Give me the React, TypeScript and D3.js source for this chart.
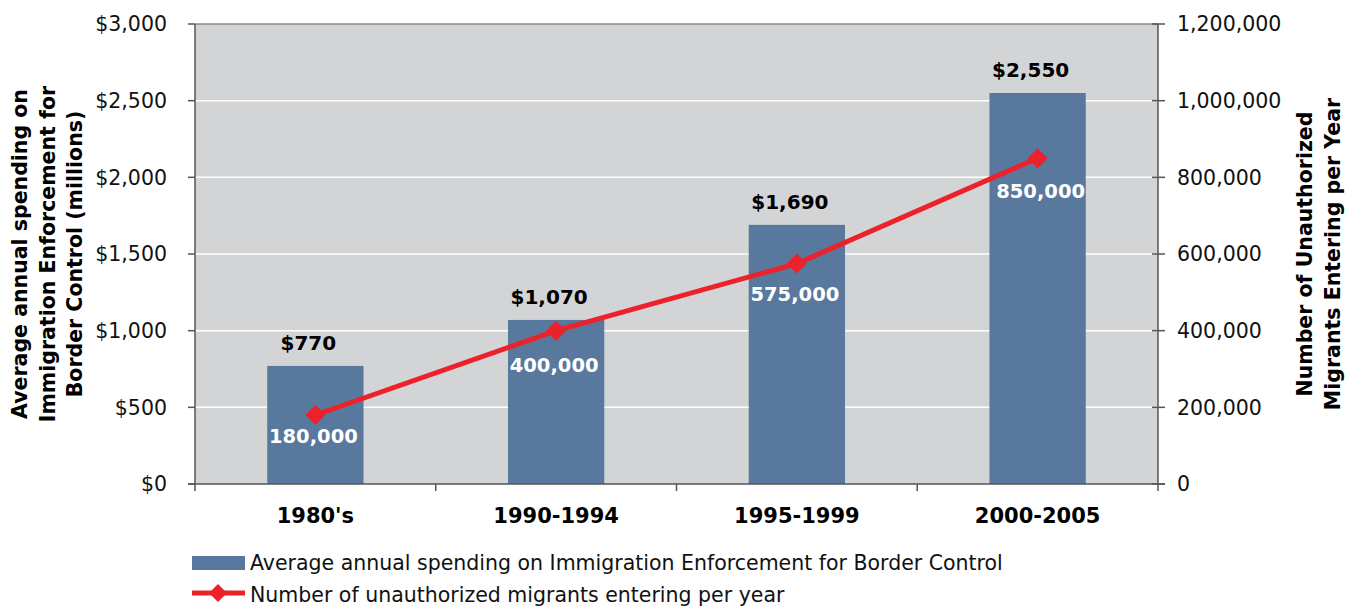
import React from "react";
import * as d3 from "d3";

const categories = ["1980's", "1990-1994", "1995-1999", "2000-2005"];
const spending = [770, 1070, 1690, 2550];
const migrants = [180000, 400000, 575000, 850000];
const leftTicks = [0, 500, 1000, 1500, 2000, 2500, 3000];
const rightTicks = [0, 200000, 400000, 600000, 800000, 1000000, 1200000];
const leftTitle = ["Average annual spending on", "Immigration Enforcement for", "Border Control (millions)"];
const rightTitle = ["Number of Unauthorized", "Migrants Entering per Year"];
const legendBar = "Average annual spending on Immigration Enforcement for Border Control";
const legendLine = "Number of unauthorized migrants entering per year";

const W = 1354, H = 606;
const L = 195, R = 1158, T = 24, B = 484;
const FONT = "Verdana, 'DejaVu Sans', sans-serif";
const BAR = "#58799d";
const RED = "#ed2129";
const LINE_LABEL_DY = [28, 41, 37, 40];

export default function App() {
  const x = d3.scaleBand<string>().domain(categories).range([L, R]).paddingInner(0).paddingOuter(0);
  const yL = d3.scaleLinear().domain([0, 3000]).range([B, T]);
  const yR = d3.scaleLinear().domain([0, 1200000]).range([B, T]);
  const bw = x.bandwidth() * 0.4;
  const fmtD = (v: number) => "$" + d3.format(",")(v);
  const fmt = d3.format(",");
  const line = d3.line<number>().x((_, i) => x(categories[i])! + x.bandwidth() / 2).y(d => yR(d));
  const diamond = (cx: number, cy: number, r: number) => `M${cx},${cy - r}L${cx + r},${cy}L${cx},${cy + r}L${cx - r},${cy}Z`;

  return (
    <svg width={W} height={H} style={{ position: "absolute", left: 0, top: 0, fontFamily: FONT }}>
      <rect x={0} y={0} width={W} height={H} fill="#fff" />
      <rect x={L} y={T} width={R - L} height={B - T} fill="#d3d4d6" />
      {leftTicks.slice(1).map(t => (
        <line key={t} x1={L} x2={R} y1={yL(t)} y2={yL(t)} stroke={t === 3000 ? "#8a8a8a" : "#fff"} strokeWidth={1.5} />
      ))}
      {categories.map((c, i) => (
        <rect key={c} x={x(c)! + x.bandwidth() / 2 - bw / 2} y={yL(spending[i])} width={bw} height={B - yL(spending[i])} fill={BAR} />
      ))}
      <line x1={L} x2={L} y1={T} y2={B} stroke="#555" strokeWidth={1.5} />
      <line x1={R} x2={R} y1={T} y2={B} stroke="#555" strokeWidth={1.5} />
      <line x1={L - 7} x2={R + 7} y1={B} y2={B} stroke="#555" strokeWidth={1.5} />
      {leftTicks.map(t => (
        <g key={t}>
          <line x1={L - 7} x2={L} y1={yL(t)} y2={yL(t)} stroke="#555" strokeWidth={1.5} />
          <text x={L - 28} y={yL(t)} dy="0.35em" textAnchor="end" fontSize={20.5} fill="#111">{fmtD(t)}</text>
        </g>
      ))}
      {rightTicks.map(t => (
        <g key={t}>
          <line x1={R - 6} x2={R + 7} y1={yR(t)} y2={yR(t)} stroke="#555" strokeWidth={1.5} />
          <text x={R + 19} y={yR(t)} dy="0.35em" textAnchor="start" fontSize={20.5} fill="#111">{fmt(t)}</text>
        </g>
      ))}
      {[...categories.map(c => x(c)!), R].map((v, i) => (
        <line key={i} x1={v} x2={v} y1={B} y2={B + 7} stroke="#555" strokeWidth={1.5} />
      ))}
      {categories.map(c => (
        <text key={c} x={x(c)! + x.bandwidth() / 2} y={523} textAnchor="middle" fontSize={21} fontWeight="bold" fill="#000">{c}</text>
      ))}
      <path d={line(migrants)!} fill="none" stroke={RED} strokeWidth={5} />
      {migrants.map((m, i) => {
        const cx = x(categories[i])! + x.bandwidth() / 2;
        return <path key={i} d={diamond(cx, yR(m), 10)} fill={RED} />;
      })}
      {categories.map((c, i) => (
        <text key={c} x={x(c)! + x.bandwidth() / 2 - 7} y={yL(spending[i]) - 16} textAnchor="middle" fontSize={20} fontWeight="bold" fill="#000">{fmtD(spending[i])}</text>
      ))}
      {categories.map((c, i) => (
        <text key={c} x={x(c)! + x.bandwidth() / 2 - 2 + (i === 3 ? 5 : 0)} y={yR(migrants[i]) + LINE_LABEL_DY[i]} textAnchor="middle" fontSize={19.5} fontWeight="bold" fill="#fff">{fmt(migrants[i])}</text>
      ))}
      <g transform={`translate(27,254) rotate(-90)`}>
        {leftTitle.map((s, i) => (
          <text key={i} x={0} y={i * 27.5} textAnchor="middle" fontSize={20.5} fontWeight="bold" fill="#000">{s}</text>
        ))}
      </g>
      <g transform={`translate(1312,254) rotate(-90)`}>
        {rightTitle.map((s, i) => (
          <text key={i} x={0} y={i * 27.5} textAnchor="middle" fontSize={20.5} fontWeight="bold" fill="#000">{s}</text>
        ))}
      </g>
      <rect x={192} y={556} width={53} height={14} fill={BAR} />
      <text x={250} y={570} fontSize={20.5} fill="#111">{legendBar}</text>
      <line x1={192} x2={245} y1={593} y2={593} stroke={RED} strokeWidth={5} />
      <path d={diamond(218, 593, 9)} fill={RED} />
      <text x={250} y={602} fontSize={20.5} fill="#111">{legendLine}</text>
    </svg>
  );
}
